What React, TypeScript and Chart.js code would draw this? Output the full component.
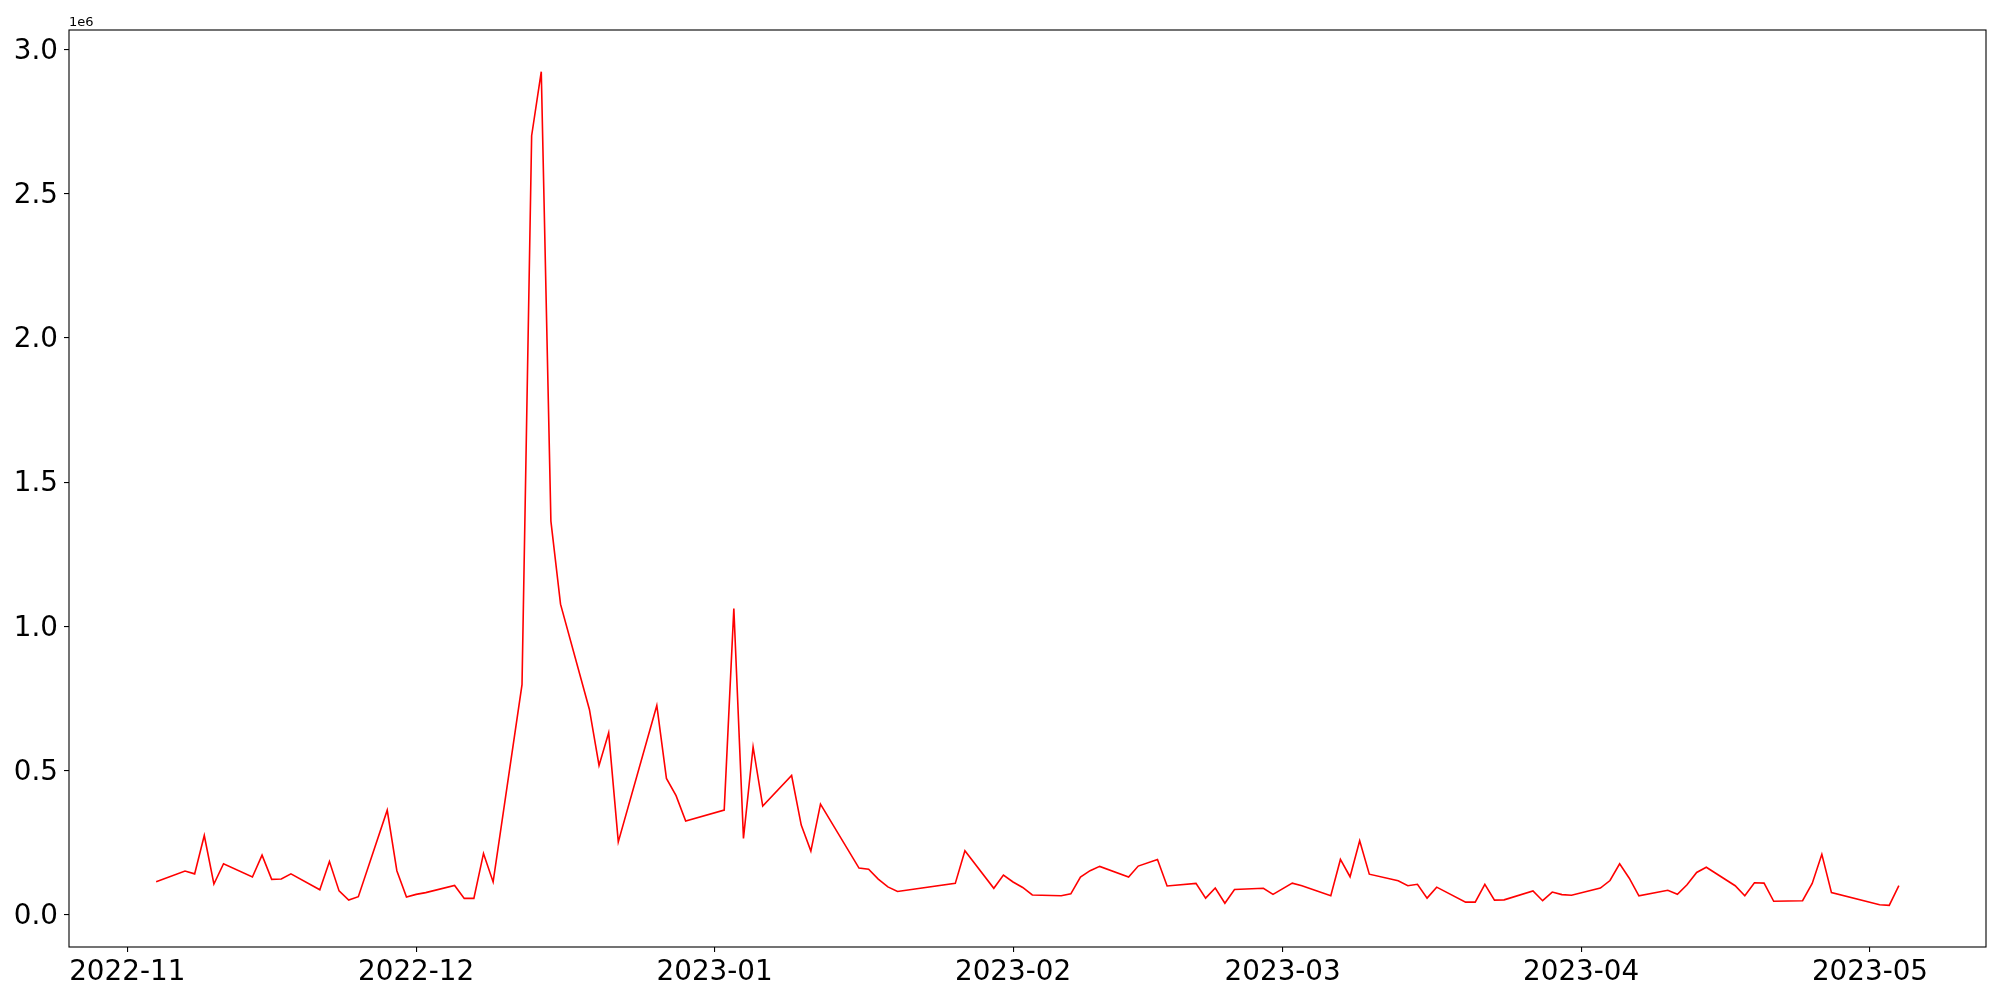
import React, { useEffect, useRef } from "react";
import Chart from "chart.js/auto";

// Trading dates and daily values (units: 1e6)
const dates: string[] = [
  "2022-11-04", "2022-11-07", "2022-11-08", "2022-11-09", "2022-11-10", "2022-11-11",
  "2022-11-14", "2022-11-15", "2022-11-16", "2022-11-17", "2022-11-18",
  "2022-11-21", "2022-11-22", "2022-11-23", "2022-11-24", "2022-11-25",
  "2022-11-28", "2022-11-29", "2022-11-30", "2022-12-01", "2022-12-02",
  "2022-12-05", "2022-12-06", "2022-12-07", "2022-12-08", "2022-12-09",
  "2022-12-12", "2022-12-13", "2022-12-14", "2022-12-15", "2022-12-16",
  "2022-12-19", "2022-12-20", "2022-12-21", "2022-12-22",
  "2022-12-26", "2022-12-27", "2022-12-28", "2022-12-29",
  "2023-01-02", "2023-01-03", "2023-01-04", "2023-01-05", "2023-01-06",
  "2023-01-09", "2023-01-10", "2023-01-11", "2023-01-12",
  "2023-01-16", "2023-01-17", "2023-01-18", "2023-01-19", "2023-01-20",
  "2023-01-26", "2023-01-27",
  "2023-01-30", "2023-01-31", "2023-02-01", "2023-02-02", "2023-02-03",
  "2023-02-06", "2023-02-07", "2023-02-08", "2023-02-09", "2023-02-10",
  "2023-02-13", "2023-02-14", "2023-02-16", "2023-02-17",
  "2023-02-20", "2023-02-21", "2023-02-22", "2023-02-23", "2023-02-24",
  "2023-02-27", "2023-02-28", "2023-03-02", "2023-03-03",
  "2023-03-06", "2023-03-07", "2023-03-08", "2023-03-09", "2023-03-10",
  "2023-03-13", "2023-03-14", "2023-03-15", "2023-03-16", "2023-03-17",
  "2023-03-20", "2023-03-21", "2023-03-22", "2023-03-23", "2023-03-24",
  "2023-03-27", "2023-03-28", "2023-03-29", "2023-03-30", "2023-03-31",
  "2023-04-03", "2023-04-04", "2023-04-05", "2023-04-06", "2023-04-07",
  "2023-04-10", "2023-04-11", "2023-04-12", "2023-04-13", "2023-04-14",
  "2023-04-17", "2023-04-18", "2023-04-19", "2023-04-20", "2023-04-21",
  "2023-04-24", "2023-04-25", "2023-04-26", "2023-04-27",
  "2023-05-02", "2023-05-03", "2023-05-04",
];

const valuesMillions: number[] = [
  0.115, 0.152, 0.142, 0.275, 0.107, 0.177,
  0.131, 0.207, 0.123, 0.124, 0.142,
  0.087, 0.185, 0.083, 0.051, 0.063,
  0.363, 0.153, 0.062, 0.071, 0.077,
  0.102, 0.057, 0.057, 0.213, 0.114,
  0.798, 2.701, 2.923, 1.365, 1.077,
  0.712, 0.518, 0.631, 0.253,
  0.726, 0.473, 0.413, 0.325,
  0.363, 1.062, 0.265, 0.582, 0.377,
  0.483, 0.311, 0.221, 0.384,
  0.162, 0.158, 0.124, 0.097, 0.081,
  0.109, 0.222,
  0.092, 0.138, 0.114, 0.095, 0.069,
  0.066, 0.073, 0.131, 0.153, 0.168,
  0.131, 0.169, 0.192, 0.100,
  0.109, 0.058, 0.093, 0.040, 0.088,
  0.092, 0.071, 0.110, 0.101,
  0.066, 0.192, 0.132, 0.257, 0.141,
  0.118, 0.101, 0.106, 0.058, 0.096,
  0.044, 0.044, 0.106, 0.051, 0.052,
  0.083, 0.049, 0.079, 0.070, 0.068,
  0.093, 0.119, 0.177, 0.127, 0.066,
  0.085, 0.071, 0.104, 0.147, 0.165,
  0.101, 0.066, 0.111, 0.110, 0.047,
  0.049, 0.109, 0.210, 0.077,
  0.035, 0.033, 0.101,
];

const xTickLabels: string[] = ["2022-11", "2022-12", "2023-01", "2023-02", "2023-03", "2023-04", "2023-05"];
const yTickValues: number[] = [0, 0.5, 1.0, 1.5, 2.0, 2.5, 3.0];
const yOffsetText = "1e6";

const DAY = 86400000;
const toDay = (s: string) => {
  const [y, m, d] = s.split("-").map(Number);
  return Date.UTC(y, m - 1, d) / DAY;
};
const fmtMonth = (day: number) => {
  const dt = new Date(day * DAY);
  return `${dt.getUTCFullYear()}-${String(dt.getUTCMonth() + 1).padStart(2, "0")}`;
};

const FONT = "DejaVu Sans";

export default function App() {
  const ref = useRef<HTMLCanvasElement | null>(null);

  useEffect(() => {
    document.body.style.margin = "0";
    const canvas = ref.current;
    if (!canvas) return;

    const points = dates.map((d, i) => ({ x: toDay(d), y: valuesMillions[i] * 1e6 }));
    const xs = points.map((p) => p.x);
    const ys = points.map((p) => p.y);
    const xMinD = Math.min(...xs), xMaxD = Math.max(...xs);
    const yMinD = Math.min(...ys), yMaxD = Math.max(...ys);
    const xm = (xMaxD - xMinD) * 0.05;
    const ym = (yMaxD - yMinD) * 0.05;
    const xTickDays = xTickLabels.map((l) => toDay(l + "-01"));

    const framePlugin = {
      id: "frame",
      afterDraw(chart: any) {
        const { ctx, chartArea } = chart;
        const { left, top, right, bottom } = chartArea;
        ctx.save();
        ctx.strokeStyle = "#000";
        ctx.lineWidth = 1.1;
        ctx.strokeRect(left, top, right - left, bottom - top);
        ctx.font = `13px "${FONT}"`;
        ctx.fillStyle = "#000";
        ctx.textAlign = "left";
        ctx.textBaseline = "alphabetic";
        ctx.fillText(yOffsetText, left, top - 4);
        ctx.restore();
      },
    };

    const chart = new Chart(canvas, {
      type: "line",
      data: {
        datasets: [
          {
            data: points,
            borderColor: "#ff0000",
            borderWidth: 1.6,
            pointRadius: 0,
            tension: 0,
            fill: false,
          },
        ],
      },
      options: {
        responsive: false,
        animation: false,
        devicePixelRatio: 1,
        layout: { padding: { top: 30, right: 14, left: 0, bottom: 0 } },
        plugins: { legend: { display: false }, tooltip: { enabled: false } },
        scales: {
          x: {
            type: "linear",
            min: xMinD - xm,
            max: xMaxD + xm,
            afterBuildTicks: (scale: any) => {
              scale.ticks = xTickDays.map((v) => ({ value: v }));
            },
            afterFit: (scale: any) => {
              scale.height = 53;
            },
            ticks: {
              autoSkip: false,
              maxRotation: 0,
              minRotation: 0,
              color: "#000",
              padding: 4,
              font: { family: FONT, size: 27.8 },
              callback: (v: any) => fmtMonth(Number(v)),
            },
            grid: {
              display: true,
              drawOnChartArea: false,
              drawTicks: true,
              tickLength: 5,
              color: "#000",
              lineWidth: 1.1,
            },
            border: { display: false },
          },
          y: {
            type: "linear",
            min: yMinD - ym,
            max: yMaxD + ym,
            afterBuildTicks: (scale: any) => {
              scale.ticks = yTickValues.map((v) => ({ value: v * 1e6 }));
            },
            afterFit: (scale: any) => {
              scale.width = 69;
            },
            ticks: {
              autoSkip: false,
              color: "#000",
              padding: 6,
              labelOffset: 2,
              font: { family: FONT, size: 27.8 },
              callback: (v: any) => (Number(v) / 1e6).toFixed(1),
            },
            grid: {
              display: true,
              drawOnChartArea: false,
              drawTicks: true,
              tickLength: 5,
              color: "#000",
              lineWidth: 1.1,
            },
            border: { display: false },
          },
        },
      },
      plugins: [framePlugin],
    });

    return () => chart.destroy();
  }, []);

  return (
    <div style={{ position: "fixed", left: 0, top: 0, width: 2000, height: 1000, background: "#fff" }}>
      <canvas ref={ref} width={2000} height={1000} style={{ display: "block", width: 2000, height: 1000 }} />
    </div>
  );
}
